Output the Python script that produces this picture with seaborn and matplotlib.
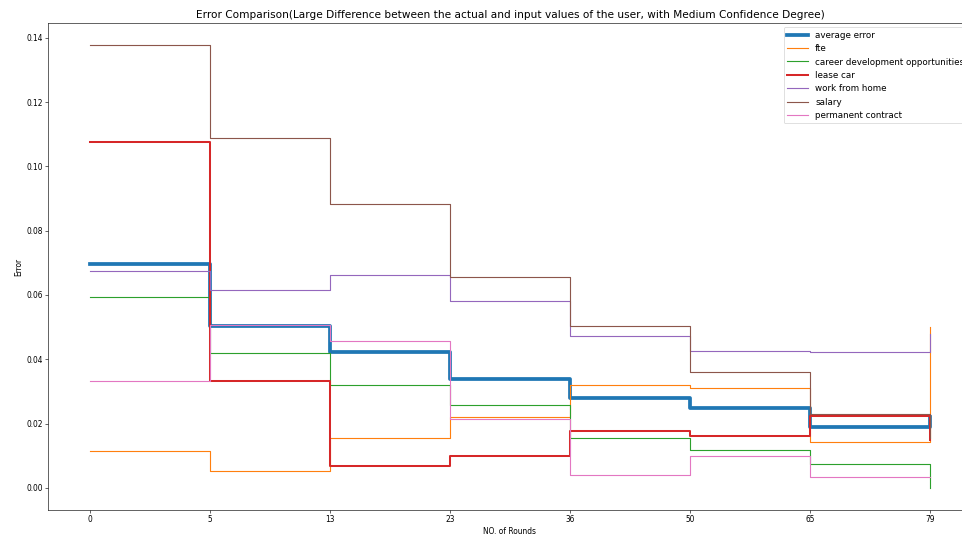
import matplotlib
matplotlib.use("Agg")
import matplotlib.pyplot as plt
import seaborn as sns
import pandas as pd

rounds = [0, 5, 13, 23, 36, 50, 65, 79]
avg_error = [0.0697, 0.0504, 0.0424, 0.0338, 0.0279, 0.0247, 0.0190, 0.0221]
fte = [0.0116, 0.0054, 0.0156, 0.0219, 0.0320, 0.0310, 0.0143, 0.0499]
career = [0.0595, 0.0421, 0.0321, 0.0258, 0.0156, 0.0117, 0.0073, 0.0000]
lease_car = [0.1077, 0.0332, 0.0069, 0.0100, 0.0176, 0.0160, 0.0225, 0.0150]
work_home = [0.0675, 0.0615, 0.0662, 0.0582, 0.0471, 0.0426, 0.0423, 0.0478]
salary = [0.1377, 0.1089, 0.0884, 0.0655, 0.0504, 0.0359, 0.0231, 0.0155]
permanent = [0.0333, 0.0508, 0.0456, 0.0214, 0.0041, 0.0099, 0.0034, 0.0034]

series = [
    ("average error", avg_error, 5.0),
    ("fte", fte, 1.5),
    ("career development opportunities", career, 1.5),
    ("lease car", lease_car, 2.7),
    ("work from home", work_home, 1.5),
    ("salary", salary, 1.5),
    ("permanent contract", permanent, 1.5),
]
colors = sns.color_palette("tab10", 7)

fig = plt.figure(figsize=(963 / 54, 10), dpi=54)
ax = fig.add_axes([48 / 963, 30 / 540, 924 / 963, 487 / 540])

idx = list(range(len(rounds)))
for (name, vals, lw), c in zip(series, colors):
    df = pd.DataFrame({"x": idx, "y": vals})
    sns.lineplot(data=df, x="x", y="y", ax=ax, color=c, linewidth=lw,
                 drawstyle="steps-post", label=name)

ax.set_xticks(idx)
ax.set_xticklabels([str(r) for r in rounds])
ax.set_xlabel("NO. of Rounds")
ax.set_ylabel("Error")
ax.set_title("Error Comparison(Large Difference between the actual and input values of the user, with Medium Confidence Degree)",
             fontsize=14)
ax.legend(loc="upper right", fontsize=11.6, labelspacing=0.5, handlelength=2.4)

fig.savefig("out.png", dpi=54)
